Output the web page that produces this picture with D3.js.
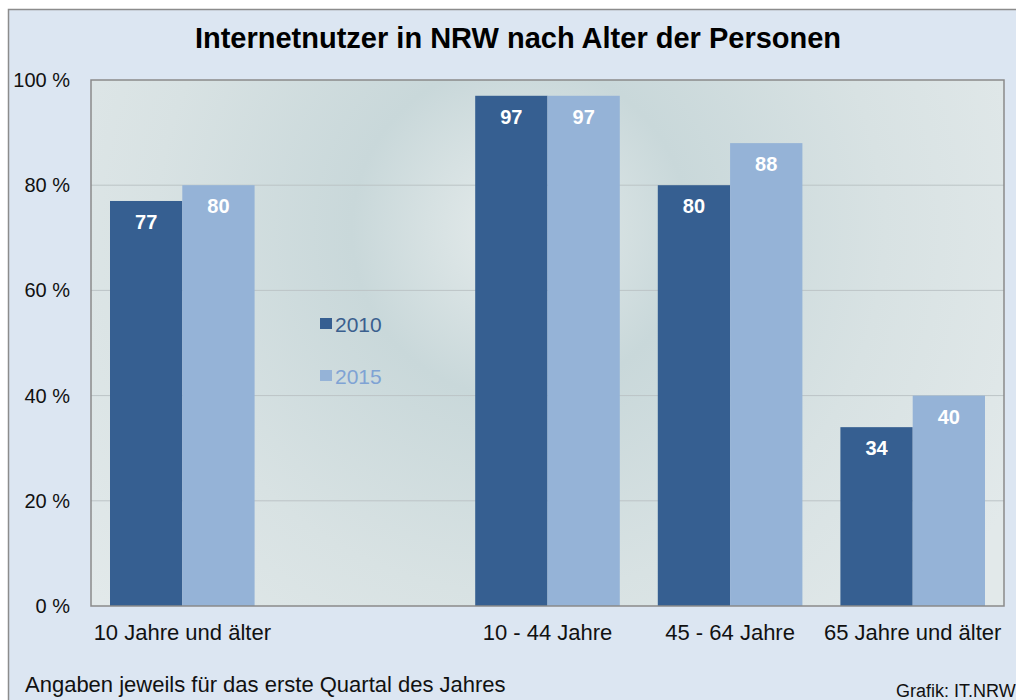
<!DOCTYPE html>
<html>
<head>
<meta charset="utf-8">
<script src="https://cdn.jsdelivr.net/npm/d3@7"></script>
<style>
  body { margin: 0; background: #fff; }
  text { font-family: "Liberation Sans", Arial, sans-serif; }
</style>
</head>
<body>
<svg id="chart"></svg>
<script>
const size = {w: 1016, h: 700};
const plot = {l: 91, t: 80, r: 1004, b: 606};

// data
const categories = ['10 Jahre und älter', 'gap', '10 - 44 Jahre', '45 - 64 Jahre', '65 Jahre und älter'];
const years = ['2010', '2015'];
const values2010 = [77, null, 97, 80, 34];
const values2015 = [80, null, 97, 88, 40];
const yTicks = [0, 20, 40, 60, 80, 100];
const colors = {'2010': '#365f91', '2015': '#95b3d7'};

const svg = d3.select('svg#chart')
    .attr('width', size.w)
    .attr('height', size.h);

const defs = svg.append('defs');
const grad = defs.append('radialGradient')
    .attr('id', 'bg')
    .attr('gradientUnits', 'userSpaceOnUse')
    .attr('cx', 520).attr('cy', 230).attr('r', 560);
grad.append('stop').attr('offset', '0%').attr('stop-color', '#e6ecec');
grad.append('stop').attr('offset', '30%').attr('stop-color', '#c9d8da');
grad.append('stop').attr('offset', '65%').attr('stop-color', '#d8e2e3');
grad.append('stop').attr('offset', '100%').attr('stop-color', '#e2e9ea');

// outer frame
svg.append('rect')
    .attr('x', 8.5).attr('y', 9.5)
    .attr('width', size.w).attr('height', size.h)
    .attr('fill', '#dce6f2')
    .attr('stroke', '#8c8c8c')
    .attr('stroke-width', 1.5);

svg.append('text')
    .attr('x', 518).attr('y', 48)
    .attr('text-anchor', 'middle')
    .attr('font-size', 29)
    .attr('font-weight', 'bold')
    .attr('fill', '#000')
    .text('Internetnutzer in NRW nach Alter der  Personen');

// plot background
svg.append('rect')
    .attr('x', plot.l).attr('y', plot.t)
    .attr('width', plot.r - plot.l).attr('height', plot.b - plot.t)
    .attr('fill', 'url(#bg)');

const xScale = d3.scaleBand()
    .domain(categories)
    .range([plot.l, plot.r]);

const xInner = d3.scaleBand()
    .domain(years)
    .range([19, xScale.bandwidth() - 19]);

const yScale = d3.scaleLinear()
    .domain([0, 100])
    .range([plot.b, plot.t]);

// grid
svg.append('g')
    .selectAll('line')
    .data(yTicks.filter(d => d > 0 && d < 100))
    .join('line')
    .attr('x1', plot.l).attr('x2', plot.r)
    .attr('y1', d => yScale(d)).attr('y2', d => yScale(d))
    .attr('stroke', '#bcc4c6')
    .attr('stroke-width', 1);

// y labels
const yAxis = d3.axisLeft(yScale)
    .tickValues(yTicks)
    .tickFormat(d => d + ' %')
    .tickSize(0)
    .tickPadding(21);
svg.append('g')
    .attr('transform', `translate(${plot.l}, 0)`)
    .call(yAxis)
    .call(g => g.select('.domain').remove())
    .call(g => g.selectAll('text')
        .attr('font-size', 20)
        .attr('font-family', '"Liberation Sans", Arial, sans-serif')
        .attr('fill', '#111'));

// bars
const rows = categories.map((c, i) => ({cat: c, vals: [
    {year: '2010', value: values2010[i]},
    {year: '2015', value: values2015[i]}
]})).filter(d => d.vals[0].value !== null);

const groups = svg.append('g')
    .selectAll('g')
    .data(rows)
    .join('g')
    .attr('transform', d => `translate(${xScale(d.cat)}, 0)`);

groups.selectAll('rect')
    .data(d => d.vals)
    .join('rect')
    .attr('x', d => xInner(d.year))
    .attr('y', d => yScale(d.value))
    .attr('width', xInner.bandwidth())
    .attr('height', d => yScale(0) - yScale(d.value))
    .attr('fill', d => colors[d.year]);

groups.selectAll('text')
    .data(d => d.vals)
    .join('text')
    .attr('x', d => xInner(d.year) + xInner.bandwidth() / 2)
    .attr('y', d => yScale(d.value) + 28)
    .attr('text-anchor', 'middle')
    .attr('font-size', 20)
    .attr('font-weight', 'bold')
    .attr('fill', '#fff')
    .text(d => d.value);

// plot border
svg.append('rect')
    .attr('x', plot.l).attr('y', plot.t)
    .attr('width', plot.r - plot.l).attr('height', plot.b - plot.t)
    .attr('fill', 'none')
    .attr('stroke', '#8a8a8a')
    .attr('stroke-width', 1.5);

// x labels
const xAxis = d3.axisBottom(xScale)
    .tickSize(0)
    .tickPadding(18)
    .tickFormat(d => d === 'gap' ? '' : d);
svg.append('g')
    .attr('transform', `translate(0, ${plot.b})`)
    .call(xAxis)
    .call(g => g.select('.domain').remove())
    .call(g => g.selectAll('text')
        .attr('font-size', 22)
        .attr('font-family', '"Liberation Sans", Arial, sans-serif')
        .attr('fill', '#111'));

// legend
const legend = svg.append('g')
    .selectAll('g')
    .data(years)
    .join('g')
    .attr('transform', (d, i) => `translate(320, ${324 + i * 52})`);
legend.append('rect')
    .attr('x', 0).attr('y', -6)
    .attr('width', 12).attr('height', 11)
    .attr('fill', d => colors[d]);
legend.append('text')
    .attr('x', 15).attr('y', 8)
    .attr('font-size', 21)
    .attr('fill', d => d === '2010' ? '#3a5f8e' : '#7fa3d4')
    .text(d => d);

// notes
svg.append('text')
    .attr('x', 25).attr('y', 692)
    .attr('font-size', 22)
    .attr('fill', '#111')
    .text('Angaben  jeweils für das erste Quartal des Jahres');
svg.append('text')
    .attr('x', 896).attr('y', 697)
    .attr('font-size', 18)
    .attr('fill', '#111')
    .text('Grafik: IT.NRW');
</script>
</body>
</html>
